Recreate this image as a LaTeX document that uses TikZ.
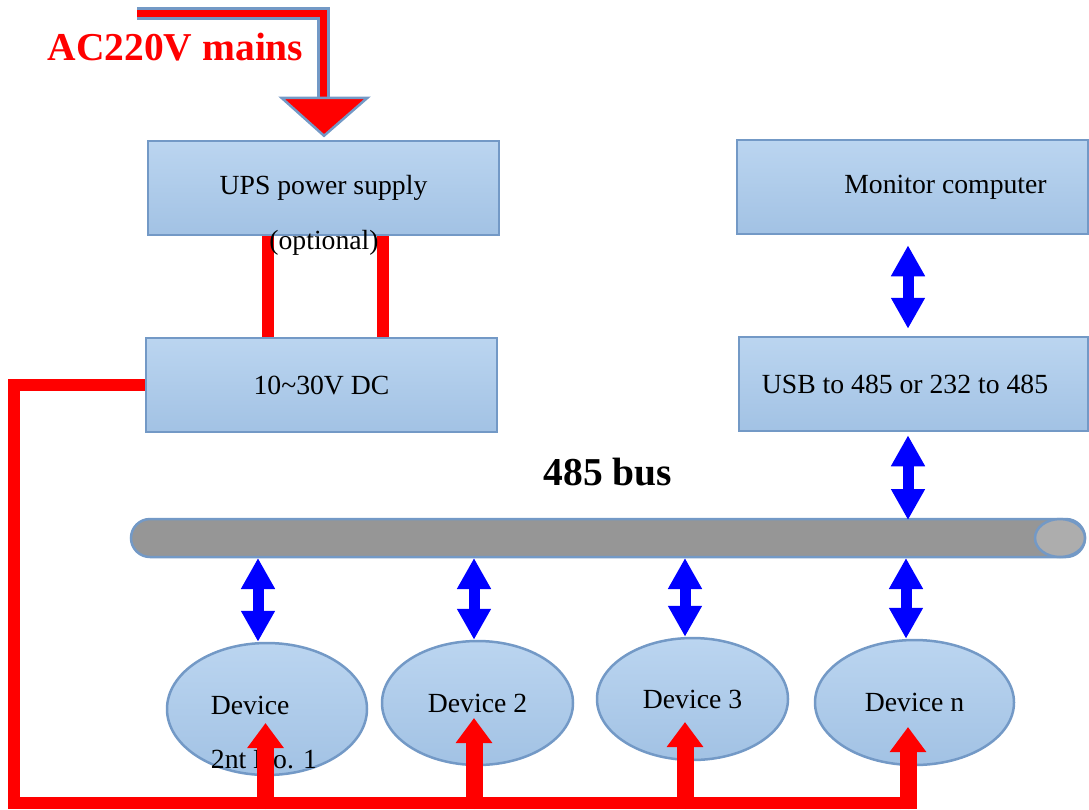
\documentclass[tikz,border=0pt]{standalone}
\usepackage{fontspec}
\setmainfont{Liberation Serif}
\usetikzlibrary{arrows.meta,positioning,calc,shapes.geometric}
\definecolor{boxedge}{HTML}{7399C6}
\definecolor{boxtop}{HTML}{BBD5F0}
\definecolor{boxbottom}{HTML}{A2C2E4}
\definecolor{busgray}{HTML}{969696}
\definecolor{capgray}{HTML}{ADADAD}
\definecolor{powerred}{HTML}{FF0000}
\definecolor{datablue}{HTML}{0000FF}

\begin{document}
\begin{tikzpicture}[
  x=1pt,y=-1pt,
  font=\fontsize{27.7}{33}\selectfont,
  box/.style={
    draw=boxedge,
    line width=2.5pt,
    top color=boxtop,
    bottom color=boxbottom,
    minimum width=351pt,
    minimum height=94pt,
    inner sep=0pt
  },
  device/.style={box,ellipse},
  bus/.style={draw=boxedge,line width=2.5pt,fill=busgray,rounded corners=19pt,
    minimum width=954pt,minimum height=38pt,inner sep=0pt},
  buscap/.style={ellipse,draw=boxedge,line width=2.5pt,fill=capgray,
    minimum width=50pt,minimum height=38pt,inner sep=0pt},
  title/.style={font=\fontsize{39.5}{46}\selectfont\bfseries,inner sep=0pt},
  power/.style={draw=powerred,line width=12pt},
  feed/.style={-{Triangle[length=25pt,width=35pt]},draw=powerred,fill=powerred,line width=17pt},
  dataflow/.style={{Triangle[length=31pt,width=32pt]}-{Triangle[length=31pt,width=32pt]},
    draw=datablue,fill=datablue,line width=11pt},
  acline/.style={draw=boxedge,line width=3pt,double=powerred,double distance=7pt},
  achead/.style={draw=boxedge,fill=powerred,line width=2.5pt,line join=miter}
]
  \useasboundingbox (0,0) rectangle (1089,809);

  % supply side
  \node[box] (ups) at (323.5,188) {UPS power supply};
  \node[box] (dc) at (321.5,385) {10\textasciitilde30V DC};
  \node[title,text=powerred] (mains) at (175.5,47) {AC220V mains};

  % host side
  \node[box] (mon) at (912.5,187) {\hspace*{66pt}Monitor computer};
  \node[box,minimum width=349pt] (usb) at (913.5,384) {USB to 485 or 232 to 485\hspace*{17pt}};

  % bus
  \node[title] (buslabel) at (608,472) {485 bus};
  \node[bus] (bus) at (608,538) {};
  \node[buscap] (cap) at (1060,538) {};

  % devices
  \node[device,minimum width=200pt,minimum height=132pt] (d1) at (267,709) {};
  \node[device,minimum width=191pt,minimum height=124pt] (d2) at (477.5,703) {Device 2};
  \node[device,minimum width=191pt,minimum height=122pt] (d3) at (692.5,699) {Device 3};
  \node[device,minimum width=199pt,minimum height=125pt] (dn) at (914.5,702.5) {Device n};
  \node[font=\fontsize{27.7}{54}\selectfont,align=left,inner sep=0pt] (d1txt) at (264,733) {Device\\2nt No. 1};

  % mains in
  \coordinate (acin) at (137,13);
  \draw[acline] (acin) -| ([yshift=42pt]ups.north);
  \draw[achead] ([xshift=-42pt,yshift=42pt]ups.north) -- ([xshift=44pt,yshift=42pt]ups.north)
    -- ([xshift=0.5pt,yshift=4pt]ups.north) -- cycle;

  % UPS to DC
  \draw[power] ([xshift=-55.5pt]ups.south) -- ([xshift=-55.5pt]ups.south |- dc.north);
  \draw[power] ([xshift=59.5pt]ups.south) -- ([xshift=59.5pt]ups.south |- dc.north);
  \node[inner sep=0pt] (opt) at (324,243) {(optional)};

  % data links
  \coordinate (tapU) at (908,520);
  \coordinate (tap1) at (258,558);
  \coordinate (tap2) at (474,558);
  \coordinate (tap3) at (685,558);
  \coordinate (tapn) at (906,558);
  \draw[dataflow] ([xshift=-4.5pt,yshift=-10pt]mon.south) -- ([xshift=-5.5pt,yshift=7pt]usb.north);
  \draw[dataflow] ([yshift=-3pt]usb.south -| tapU) -- (tapU);
  \foreach \i in {1,2,3,n}
    \draw[dataflow] (tap\i) -- (tap\i |- d\i.north);

  % power wiring
  \coordinate (wireL) at (14,803);
  \coordinate (wireR) at (917,803);
  \coordinate (floor) at (0,809);
  \draw[power] (dc.west) -| (wireL) -- (wireR);
  \coordinate (tip1) at (265.5,723);
  \coordinate (tip2) at (474,718);
  \coordinate (tip3) at (685,722);
  \coordinate (tipn) at (908,727);
  \foreach \i in {1,2,3,n}
    \draw[feed] (tip\i |- floor) -- (tip\i);
\end{tikzpicture}
\end{document}
